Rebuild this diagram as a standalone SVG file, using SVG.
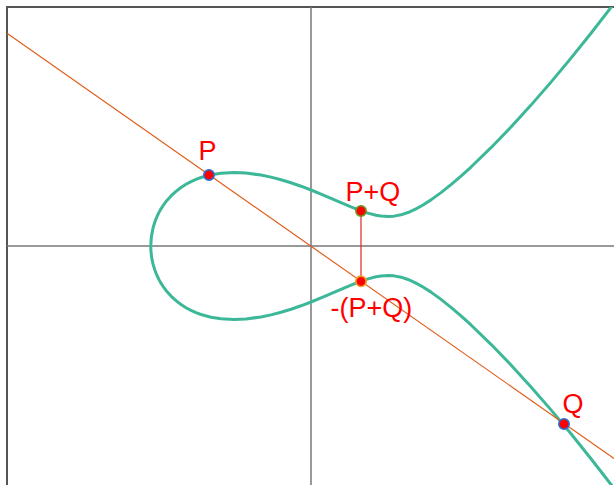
<svg xmlns="http://www.w3.org/2000/svg" width="614" height="485" viewBox="0 0 614 485">
<style>
.frame{stroke:#555;stroke-width:2;fill:none}
.axis{stroke:#777;stroke-width:1.5;fill:none}
.curve{stroke:#3cb898;stroke-width:3;fill:none;stroke-linejoin:round}
.chord{stroke:#e0601e;stroke-width:1.2;fill:none}
.vert{stroke:#e52222;stroke-width:1.2;fill:none}
.dot{fill:#ff0000;stroke-width:1.6}
.lbl{font-family:"Liberation Sans",Arial,sans-serif;font-size:27px;fill:#ff0000}
</style>
<defs>
<clipPath id="plot"><rect x="7" y="7" width="607" height="478"/></clipPath>
</defs>
<rect width="614" height="485" fill="#ffffff"/>
<g id="frame">
<line class="frame" x1="6" y1="7" x2="614" y2="7"/>
<line class="frame" x1="7" y1="6" x2="7" y2="485"/>
</g>
<g id="axes">
<line class="axis" x1="7" y1="246" x2="614" y2="246"/>
<line class="axis" x1="311" y1="7" x2="311" y2="485"/>
</g>
<g id="connectors" clip-path="url(#plot)">
<path id="curve" class="curve" d="M615,2.2 L611,7.46 L591,33.26 L571,58.17 L551,82.14 L531,105.11 L511,127 L491,147.69 L471,167.02 L461,176.07 L451,184.63 L441,192.62 L431,199.88 L423,205.03 L416,208.93 L408,212.55 L401,214.82 L394,216.15 L388,216.5 L381,216.05 L376,215.21 L368,213.14 L361,210.8 L351,206.9 L341,202.66 L331,198.32 L321,194.07 L311,190 L301,186.21 L291,182.76 L281,179.72 L271,177.13 L261,175.06 L246,173.04 L234,172.5 L221,173.2 L211,174.81 L201,177.53 L196,179.38 L191,181.62 L186,184.3 L181,187.5 L176,191.33 L171,195.94 L166,201.61 L163,205.7 L161,208.83 L159,212.38 L157,216.5 L155,221.49 L153,228.06 Q148.54,246 153,263.94 L155,270.51 L157,275.5 L159,279.62 L161,283.17 L163,286.3 L166,290.39 L171,296.06 L176,300.67 L181,304.5 L186,307.7 L191,310.38 L196,312.62 L201,314.47 L211,317.19 L221,318.8 L234,319.5 L246,318.96 L261,316.94 L271,314.87 L281,312.28 L291,309.24 L301,305.79 L311,302 L321,297.93 L331,293.68 L341,289.34 L351,285.1 L361,281.2 L368,278.86 L376,276.79 L381,275.95 L388,275.5 L394,275.85 L401,277.18 L408,279.45 L416,283.07 L423,286.97 L431,292.12 L441,299.38 L451,307.37 L461,315.93 L471,324.98 L491,344.31 L511,365 L531,386.89 L551,409.86 L571,433.83 L591,458.74 L611,484.54 L615,489.8"/>
<line id="chord" class="chord" x1="7" y1="33.2" x2="614" y2="458.5"/>
<line id="reflect" class="vert" x1="361" y1="211" x2="361" y2="281.3"/>
</g>
<g id="P">
<circle class="dot" cx="209" cy="175" r="5.2" stroke="#2a6fd6"/>
<text class="lbl" x="198.5" y="160">P</text>
</g>
<g id="PplusQ">
<circle class="dot" cx="361" cy="211" r="5.2" stroke="#6a9a20"/>
<text class="lbl" x="345.5" y="201">P+Q</text>
</g>
<g id="negPplusQ">
<circle class="dot" cx="361" cy="281.3" r="5.2" stroke="#f0a020"/>
<text class="lbl" x="330.5" y="317">-(P+Q)</text>
</g>
<g id="Q">
<circle class="dot" cx="564" cy="424" r="5.2" stroke="#2a6fd6"/>
<text class="lbl" x="562.5" y="413">Q</text>
</g>
</svg>
